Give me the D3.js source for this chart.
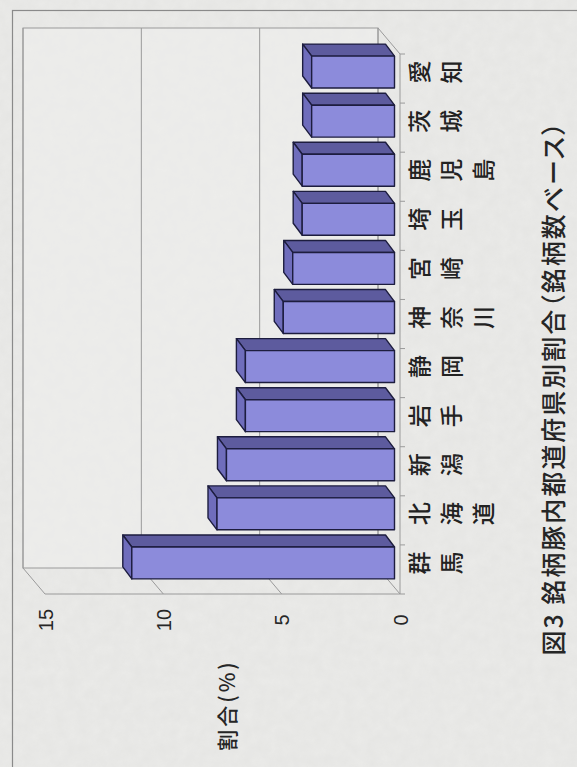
<!DOCTYPE html>
<html>
<head>
<meta charset="utf-8">
<script src="https://cdn.jsdelivr.net/npm/d3@7"></script>
<style>
  html, body { margin: 0; padding: 0; background: #ebebe9; }
  svg { display: block; }
  .caption { font-feature-settings: "palt"; }
</style>
</head>
<body>
<svg id="chart" width="577" height="767"></svg>
<script>
// Branded-pork share by prefecture (count basis), drawn as a 3-D bar chart
// laid on its side: values run right-to-left, categories bottom-to-top.
const categories = ["群馬", "北海道", "新潟", "岩手", "静岡", "神奈川", "宮崎", "埼玉", "鹿児島", "茨城", "愛知"];
const shares = [11.1, 7.5, 7.1, 6.3, 6.3, 4.7, 4.3, 3.9, 3.9, 3.5, 3.5];
const valueTicks = [0, 5, 10, 15];
const axisTitle = "割合(%)";
const chartTitle = "図3 銘柄豚内都道府県別割合（銘柄数ベース）";

const data = categories.map((c, i) => ({ name: c, value: shares[i] }));

const svg = d3.select("#chart");
const W = 577, H = 767;

// paper grain
const defs = svg.append("defs");
const grain = defs.append("filter").attr("id", "grain")
  .attr("x", 0).attr("y", 0).attr("width", "100%").attr("height", "100%");
grain.append("feTurbulence").attr("type", "fractalNoise")
  .attr("baseFrequency", 0.09).attr("numOctaves", 3).attr("seed", 7);
grain.append("feColorMatrix").attr("type", "matrix")
  .attr("values", "0 0 0 0 0.45  0 0 0 0 0.45  0 0 0 0 0.44  0 0 0 0.22 0");

svg.append("rect").attr("width", W).attr("height", H).attr("fill", "#ebebe9");
svg.append("rect").attr("width", W).attr("height", H).attr("filter", "url(#grain)").attr("opacity", 0.5);

// outer frame of the figure
svg.append("rect")
  .attr("x", 12.5).attr("y", 10.5)
  .attr("width", W + 20).attr("height", H + 20)
  .attr("fill", "none").attr("stroke", "#8a8a8a").attr("stroke-width", 1.2);

// front-plane scales
const x = d3.scaleLinear().domain([0, 15]).range([400, 45]);
const y = d3.scaleBand().domain(categories).range([594, 54])
  .paddingInner(0.35).paddingOuter(0.175);

// oblique depth vector (front -> back wall)
const D = { x: -22, y: -26 };
const off = z => ({ x: D.x * z, y: D.y * z });
const frontBottom = 594, frontTop = 54;

const grid = svg.append("g").attr("stroke", "#9a9a9a").attr("stroke-width", 1).attr("fill", "none");

// back wall
const bw0 = off(1);
grid.append("rect")
  .attr("x", x(15) + bw0.x).attr("y", frontTop + bw0.y)
  .attr("width", x(0) - x(15)).attr("height", frontBottom - frontTop)
  .attr("fill", "#eeeeec").attr("fill-opacity", 0.6);

// wall grid lines and floor lines
valueTicks.forEach(v => {
  grid.append("line")
    .attr("x1", x(v) + bw0.x).attr("y1", frontTop + bw0.y)
    .attr("x2", x(v) + bw0.x).attr("y2", frontBottom + bw0.y);
  grid.append("line")
    .attr("x1", x(v) + bw0.x).attr("y1", frontBottom + bw0.y)
    .attr("x2", x(v)).attr("y2", frontBottom);
});
// floor front edge
grid.append("line")
  .attr("x1", x(15)).attr("y1", frontBottom)
  .attr("x2", x(0)).attr("y2", frontBottom);
// side wall at the zero end
grid.append("line")
  .attr("x1", x(0) + bw0.x).attr("y1", frontTop + bw0.y)
  .attr("x2", x(0)).attr("y2", frontTop);
grid.append("line")
  .attr("x1", x(0)).attr("y1", frontTop)
  .attr("x2", x(0)).attr("y2", frontBottom);

// category ticks on the base axis
const bandEdges = categories.map(c => y(c) - y.step() * y.paddingInner() / 2);
bandEdges.push(frontBottom);
grid.selectAll("line.ctick").data(bandEdges).join("line")
  .attr("class", "ctick")
  .attr("x1", x(0)).attr("x2", x(0) + 5)
  .attr("y1", d => d).attr("y2", d => d);

// bars
const z0 = 0.25;
const o0 = off(z0), o1 = { x: -9, y: -12 };
const bars = svg.append("g")
  .attr("stroke", "#1d1d3f").attr("stroke-width", 1.4).attr("stroke-linejoin", "round");

data.forEach(d => {
  const xl = x(d.value), xr = x(0);
  const yt = y(d.name), yb = y(d.name) + y.bandwidth();
  const F = p => [p[0] + o0.x, p[1] + o0.y];
  const B = p => [p[0] + o0.x + o1.x, p[1] + o0.y + o1.y];
  // top face
  bars.append("polygon")
    .attr("points", [F([xl, yt]), F([xr, yt]), B([xr, yt]), B([xl, yt])].join(" "))
    .attr("fill", "#5d5b9e");
  // end face (value end)
  bars.append("polygon")
    .attr("points", [F([xl, yt]), B([xl, yt]), B([xl, yb]), F([xl, yb])].join(" "))
    .attr("fill", "#6f6dbc");
  // front face
  bars.append("rect")
    .attr("x", xl + o0.x).attr("y", yt + o0.y)
    .attr("width", xr - xl).attr("height", y.bandwidth())
    .attr("fill", "#8c8bdb");
});

// category labels: stacked characters, page turned on its side
const labels = svg.append("g")
  .attr("font-family", "'Noto Sans CJK JP', sans-serif")
  .attr("font-size", 23).attr("font-weight", 500).attr("fill", "#222");
data.forEach(d => {
  const cy = y(d.name) + y.bandwidth() / 2 + o0.y;
  Array.from(d.name).forEach((ch, j) => {
    labels.append("text")
      .attr("transform", `translate(${418 + 32 * j},${cy}) rotate(-90)`)
      .attr("text-anchor", "middle")
      .attr("dominant-baseline", "central")
      .text(ch);
  });
});

// value axis labels
const ax = svg.append("g").attr("transform", "translate(0,620)")
  .call(d3.axisBottom(x).tickValues(valueTicks).tickSize(0).tickFormat(d3.format("d")));
ax.select(".domain").remove();
ax.selectAll("text")
  .attr("y", 0).attr("dy", null)
  .attr("transform", "rotate(-90)")
  .attr("text-anchor", "middle")
  .attr("dominant-baseline", "central")
  .attr("font-family", "'Liberation Sans', Arial, sans-serif")
  .attr("font-size", 20).attr("fill", "#262626");

// axis title
svg.append("text")
  .attr("transform", "translate(226,705) rotate(-90)")
  .attr("text-anchor", "middle").attr("dominant-baseline", "central")
  .attr("font-family", "'Noto Sans CJK JP', sans-serif")
  .attr("font-size", 21).attr("font-weight", 500).attr("letter-spacing", 3)
  .attr("fill", "#262626")
  .text(axisTitle);

// figure caption (proportional punctuation)
svg.append("text")
  .attr("class", "caption")
  .attr("transform", "translate(552,388) rotate(-90)")
  .attr("text-anchor", "middle").attr("dominant-baseline", "central")
  .attr("font-family", "'Noto Sans CJK JP', sans-serif")
  .attr("font-size", 25).attr("font-weight", 500).attr("letter-spacing", 2)
  .attr("fill", "#262626")
  .text(chartTitle);
</script>
</body>
</html>
